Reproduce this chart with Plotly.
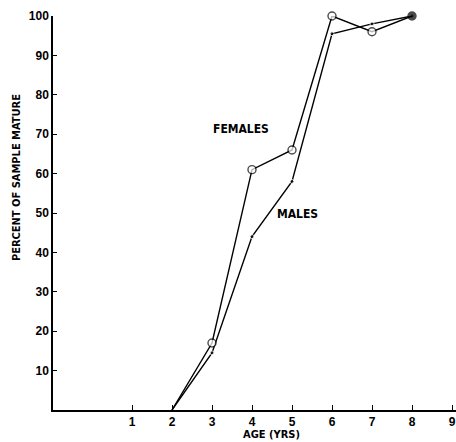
import plotly.graph_objects as go

# Age at maturity: percent of sample mature by age (years)
ages = [2, 3, 4, 5, 6, 7, 8]
females_pct = [0, 17, 61, 66, 100, 96, 100]
males_pct = [0, 14.5, 44, 58, 95.5, 98, 100]

x_ticks = [1, 2, 3, 4, 5, 6, 7, 8, 9]
y_ticks = [10, 20, 30, 40, 50, 60, 70, 80, 90, 100]

tick_font = dict(family="Liberation Sans, Arial, sans-serif", size=12,
                 color="black", weight="bold")
label_font = dict(family="DejaVu Sans Condensed, sans-serif",
                  size=11, color="black", weight="bold")

fig = go.Figure()

fig.add_trace(go.Scatter(
    x=ages, y=males_pct, mode="lines+markers", cliponaxis=False,
    line=dict(color="black", width=1.4),
    marker=dict(color="black", size=[0, 4, 4, 4, 4, 4, 4]),
    showlegend=False,
))
fig.add_trace(go.Scatter(
    x=ages, y=females_pct, mode="lines+markers", cliponaxis=False,
    line=dict(color="black", width=1.4),
    marker=dict(symbol="circle", size=[0, 8, 8, 8, 8, 8, 8],
                color=["white"] * 6 + ["black"],
                line=dict(color="black", width=1.4)),
    showlegend=False,
))

fig.add_annotation(x=3.725, y=71.3, text="FEMALES", showarrow=False,
                   xanchor="center", yanchor="middle",
                   font=dict(label_font, size=12))
fig.add_annotation(x=5.125, y=49.7, text="MALES", showarrow=False,
                   xanchor="center", yanchor="middle",
                   font=dict(label_font, size=12))
fig.add_annotation(x=0.543, y=-0.061, xref="paper", yref="paper",
                   xanchor="center", yanchor="middle",
                   text="AGE (YRS)", showarrow=False, font=label_font)
fig.add_annotation(x=-0.089, y=0.589, xref="paper", yref="paper",
                   xanchor="center", yanchor="middle",
                   text="PERCENT OF SAMPLE MATURE", showarrow=False,
                   textangle=-90, font=label_font)

fig.update_xaxes(
    range=[-0.975, 9.1], tickvals=x_ticks, ticktext=[str(v) for v in x_ticks],
    ticks="inside", ticklen=5, tickwidth=1, tickcolor="black",
    showline=True, linecolor="black", linewidth=1.5,
    showgrid=False, zeroline=False, tickfont=tick_font,
)
fig.update_yaxes(
    range=[0, 100], tickvals=y_ticks, ticktext=[str(v) for v in y_ticks],
    ticks="inside", ticklen=4, tickwidth=1, tickcolor="black",
    showline=True, linecolor="black", linewidth=1.5,
    showgrid=False, zeroline=False, tickfont=tick_font,
)

fig.update_layout(
    width=456, height=442,
    margin=dict(l=53, r=0, t=16, b=32),
    paper_bgcolor="white", plot_bgcolor="white",
)

fig.write_html("out.html")
